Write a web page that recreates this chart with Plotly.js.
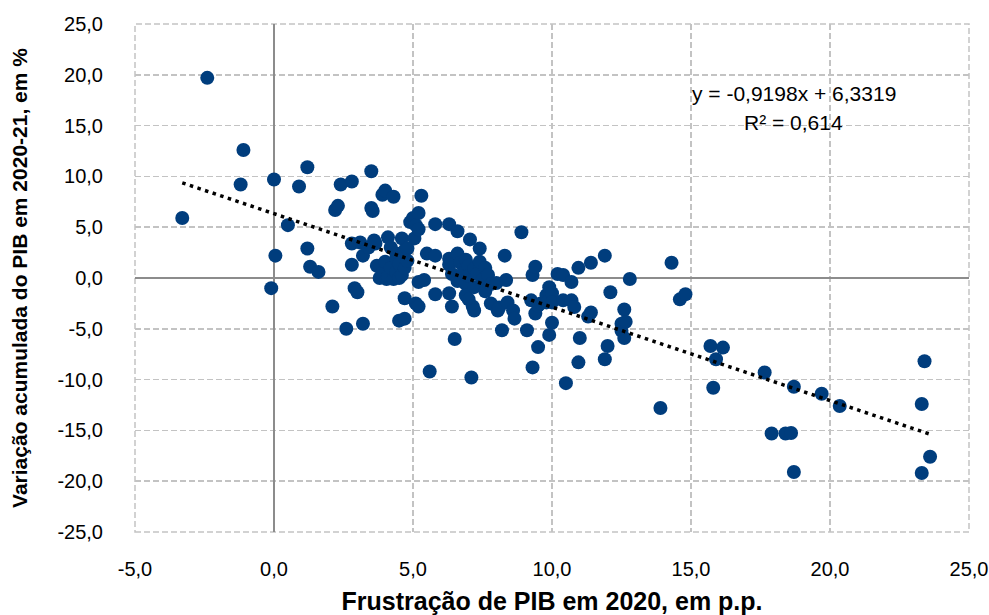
<!DOCTYPE html>
<html>
<head>
<meta charset="utf-8">
<script src="https://cdn.plot.ly/plotly-3.0.1.min.js"></script>
<style>html,body{margin:0;padding:0;background:#fff;}#chart{width:989px;height:615px;}</style>
</head>
<body>
<div id="chart"></div>
<script>
// Frustração de PIB em 2020 (p.p.)
const frustracao = [
-3.3,-2.4,-1.2,-1.1,-0.1,0.0,0.05,0.5,0.9,1.2,1.2,1.3,1.6,2.1,2.2,2.3,2.4,2.6,2.8,2.8,
2.8,2.9,3.0,3.1,3.2,3.2,3.4,3.5,3.5,3.55,3.6,3.65,3.7,3.8,3.9,3.9,4.0,4.0,4.05,4.1,
4.1,4.2,4.2,4.3,4.3,4.4,4.4,4.4,4.5,4.5,4.5,4.6,4.6,4.7,4.7,4.7,4.7,4.8,4.8,4.9,
5.0,5.05,5.1,5.1,5.2,5.2,5.2,5.2,5.3,5.4,5.5,5.6,5.8,5.8,5.8,6.3,6.3,6.3,6.3,6.4,
6.4,6.5,6.6,6.6,6.6,6.7,6.8,6.9,6.9,6.9,7.0,7.0,7.0,7.05,7.1,7.15,7.2,7.2,7.2,7.3,
7.4,7.4,7.5,7.6,7.6,7.7,7.8,7.8,8.0,8.05,8.1,8.2,8.3,8.35,8.4,8.6,8.65,8.9,9.1,9.25,
9.3,9.3,9.4,9.4,9.5,9.5,9.6,9.8,9.8,9.9,9.9,10.0,10.0,10.0,10.2,10.4,10.4,10.5,10.7,10.7,
10.8,10.95,10.95,11.0,11.3,11.4,11.4,11.9,11.9,12.0,12.1,12.5,12.5,12.6,12.65,12.6,12.8,13.9,14.3,14.6,
14.8,15.7,15.8,15.9,16.15,17.65,17.9,18.4,18.6,18.7,18.7,19.7,20.35,23.3,23.3,23.4,23.6
];
// Variação acumulada do PIB em 2020-21 (%)
const variacao = [
5.9,19.7,9.2,12.6,-1.0,9.7,2.2,5.2,9.0,10.9,2.9,1.1,0.6,-2.8,6.7,7.1,9.2,-5.0,9.5,1.3,
3.4,-1.0,-1.4,3.5,-4.5,2.2,3.0,10.5,6.9,6.6,3.7,3.4,1.2,0.0,8.2,0.5,8.6,1.6,-0.1,4.0,
0.2,3.0,1.0,8.0,-0.1,2.4,0.6,1.9,1.4,0.0,-4.2,3.9,0.3,2.7,1.0,-2.0,-4.0,2.9,1.7,5.5,
5.9,3.9,5.2,-2.5,6.4,4.8,-0.4,-2.8,8.1,-0.2,2.4,-9.2,2.2,5.3,-1.6,5.3,1.9,1.3,-1.5,0.4,
-2.8,-6.0,4.6,2.4,-0.3,1.5,0.5,1.8,-0.6,-1.7,1.2,0.2,-2.1,3.8,-9.8,-2.8,0.9,-0.9,-3.2,0.4,
2.9,1.6,-0.2,1.0,-1.3,0.3,-0.6,-2.5,-0.5,-3.2,-2.9,-5.15,2.2,-0.2,-2.4,-3.2,-4.0,4.5,-5.15,-2.2,
0.3,-8.8,1.1,-3.5,-2.7,-6.8,-2.5,-1.7,-2.4,-0.9,-5.6,-1.5,-2.4,-4.4,0.4,0.3,-2.2,-10.35,-0.4,-2.2,
-2.85,1.0,-8.3,-5.9,-3.8,-3.4,1.5,2.2,-8.0,-6.7,-1.4,-4.5,-5.2,-3.1,-4.3,-5.9,-0.1,-12.8,1.5,-2.1,
-1.6,-6.7,-10.8,-8.0,-6.85,-9.3,-15.3,-15.3,-15.25,-10.7,-19.1,-11.4,-12.6,-12.4,-19.2,-8.2,-17.6
];
// Trend line coefficients (as shown on chart)
const trendCoef = [-0.9198, 6.3319];
const trendLabels = ["y = -0,9198x + 6,3319", "R² = 0,614"];
const xTicks = [-5, 0, 5, 10, 15, 20, 25];
const yTicks = [-25, -20, -15, -10, -5, 0, 5, 10, 15, 20, 25];
const fmt = v => v.toFixed(1).replace('.', ',');

const xmin = Math.min(...frustracao), xmax = Math.max(...frustracao);
const trendX = [xmin, xmax];
const trendY = trendX.map(v => trendCoef[0] * v + trendCoef[1]);

const FONT = "'Liberation Sans', Arial, sans-serif";
const data = [
  {x: frustracao, y: variacao, type: 'scatter', mode: 'markers',
   marker: {color: '#003d7d', size: 14, line: {width: 0}}, showlegend: false, hoverinfo: 'x+y'},
  {x: trendX, y: trendY, type: 'scatter', mode: 'lines',
   line: {color: '#000000', width: 3.5, dash: '3.5px,4.5px'}, showlegend: false, hoverinfo: 'skip'}
];
const axisCommon = {
  showgrid: true, gridcolor: '#c3c3c3', gridwidth: 1.5, griddash: '6px,3px',
  zeroline: true, zerolinecolor: '#8c8c8c', zerolinewidth: 2,
  showline: false, ticks: 'outside', tickcolor: 'rgba(0,0,0,0)',
  tickfont: {family: FONT, size: 20, color: '#000'}, tickmode: 'array', automargin: false
};
const layout = {
  width: 989, height: 615,
  margin: {l: 135, r: 20, t: 24, b: 83},
  paper_bgcolor: '#fff', plot_bgcolor: '#fff',
  xaxis: Object.assign({}, axisCommon, {range: [-5, 25], tickvals: xTicks, ticktext: xTicks.map(fmt), ticklen: 19,
    title: {text: 'Frustração de PIB em 2020, em p.p.', font: {family: FONT, size: 25, color: '#000', weight: 'bold'}, standoff: 14}}),
  yaxis: Object.assign({}, axisCommon, {range: [-25, 25], tickvals: yTicks, ticktext: yTicks.map(fmt), ticklen: 27,
    title: {text: 'Variação acumulada do PIB em 2020-21, em %', font: {family: FONT, size: 21, color: '#000', weight: 'bold'}, standoff: 24}}),
  shapes: [
    {type: 'rect', xref: 'paper', yref: 'paper', x0: 0, x1: 1, y0: 0, y1: 1, layer: 'below',
     line: {color: '#c3c3c3', width: 1.5, dash: '6px,3px'}, fillcolor: 'rgba(0,0,0,0)'}
  ],
  annotations: [
    {xref: 'x', yref: 'y', x: 18.7, y: 18.2, text: trendLabels[0], showarrow: false,
     font: {family: FONT, size: 21, color: '#000'}, xanchor: 'center', yanchor: 'middle'},
    {xref: 'x', yref: 'y', x: 18.7, y: 15.3, text: trendLabels[1], showarrow: false,
     font: {family: FONT, size: 21, color: '#000'}, xanchor: 'center', yanchor: 'middle'}
  ]
};
Plotly.newPlot('chart', data, layout, {displayModeBar: false, staticPlot: true});
</script>
</body>
</html>
